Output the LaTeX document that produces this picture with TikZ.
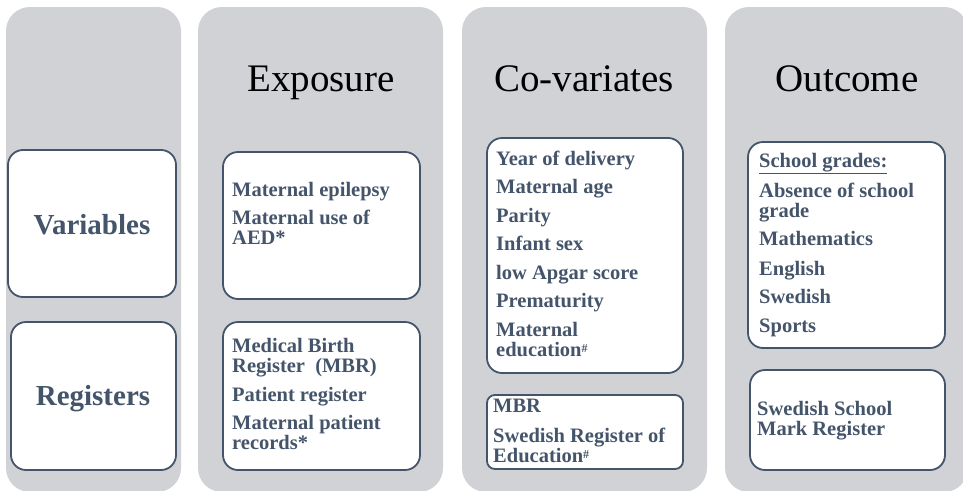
\documentclass[tikz,border=0pt]{standalone}
\usepackage{fontspec}
\setmainfont{Liberation Serif}
\definecolor{panelgray}{RGB}{208,210,214}
\definecolor{txtblue}{RGB}{68,84,106}
\newcommand{\hashsup}{\raisebox{4pt}{\fontsize{12}{12}\selectfont\#}}
\begin{document}
\begin{tikzpicture}[x=1pt,y=-1pt,
  panel/.style={fill=panelgray, draw=none, rounded corners=24pt},
  wbox/.style={fill=white, draw=txtblue, line width=1.8pt, rounded corners=15pt},
  head/.style={font=\fontsize{39}{39}\selectfont, text=black, inner sep=0pt, anchor=base},
  bigtxt/.style={font=\fontsize{29}{29}\selectfont\bfseries, text=txtblue, inner sep=0pt, anchor=base},
  body/.style={font=\fontsize{20.5}{20}\selectfont\bfseries, text=txtblue, inner sep=0pt, anchor=base west}]
\useasboundingbox (0,0) rectangle (963,490);
\fill[white] (0,0) rectangle (963,490);

% panels
\path[panel] (6,7) rectangle (181,492);
\path[panel] (198,7) rectangle (443,492);
\path[panel] (462,7) rectangle (707,492);
\path[panel] (725,7) rectangle (968,492);

% headers
\node[head] (hexp) at (321,91) {Exposure};
\node[head] (hcov) at (584,91) {Co-variates};
\node[head] (hout) at (847,91) {Outcome};

% column 1
\draw[wbox] (8,150) rectangle (176,297);
\draw[wbox] (11,322) rectangle (176,470);
\node[bigtxt] (var) at (92,234) {Variables};
\node[bigtxt] (reg) at (93,405) {Registers};

% column 2
\draw[wbox] (223,152) rectangle (420,299);
\draw[wbox] (223,322) rectangle (420,470);
\foreach \t/\yy [count=\k] in {{Maternal epilepsy}/196,{Maternal use of}/224,{AED*}/244}
  \node[body] (ea\k) at (232,\yy) {\t};
\foreach \t/\yy [count=\k] in {{Medical Birth}/352,{Register\ \ (MBR)}/372,{Patient register}/401,{Maternal patient}/429,{records*}/449}
  \node[body] (eb\k) at (232,\yy) {\t};

% column 3
\draw[wbox] (487,138) rectangle (683,373);
\draw[wbox, rounded corners=8pt] (487,395) rectangle (683,469);
\foreach \t/\yy [count=\k] in {{Year of delivery}/165,{Maternal age}/193,{Parity}/222,{Infant sex}/250,{low Apgar score}/279,{Prematurity}/307,{Maternal}/336,{education\hashsup}/356}
  \node[body] (ca\k) at (496,\yy) {\t};
\foreach \t/\yy [count=\k] in {{MBR}/412,{Swedish Register of}/442,{Education\hashsup}/462}
  \node[body] (cb\k) at (493,\yy) {\t};

% column 4
\draw[wbox] (748,142) rectangle (945,348);
\draw[wbox] (750,370) rectangle (945,470);
\foreach \t/\yy [count=\k] in {{\underline{School grades:}}/167,{Absence of school}/197,{grade}/217,{Mathematics}/245,{English}/275,{Swedish}/303,{Sports}/332}
  \node[body] (oa\k) at (759,\yy) {\t};
\foreach \t/\yy [count=\k] in {{Swedish School}/415,{Mark Register}/435}
  \node[body] (ob\k) at (757,\yy) {\t};
\end{tikzpicture}
\end{document}
